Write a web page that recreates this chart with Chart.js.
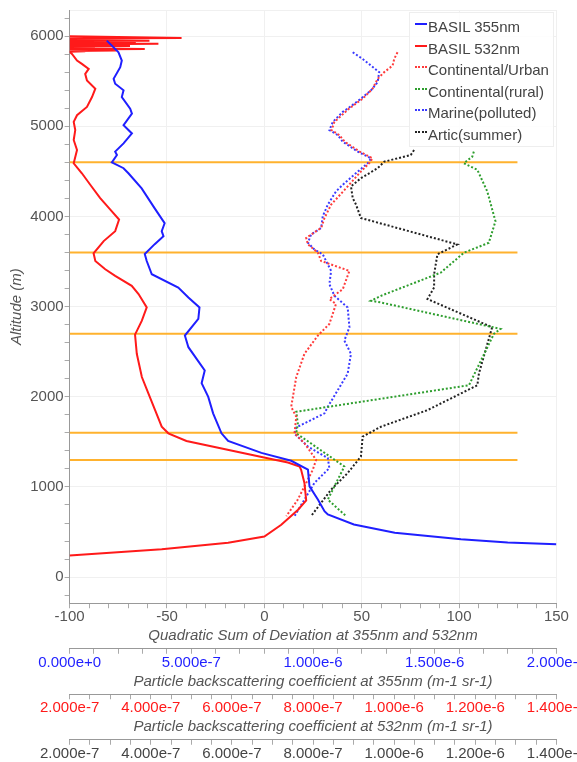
<!DOCTYPE html>
<html>
<head>
<meta charset="utf-8">
<script src="https://cdn.jsdelivr.net/npm/chart.js@4.4.1/dist/chart.umd.min.js"></script>
<style>
    html, body { margin: 0; padding: 0; background: #fff; overflow: hidden; }
    #wrap { position: relative; width: 586px; height: 762px; }
    #legend {
        position: absolute; left: 409px; top: 12px; width: 145px; height: 135px;
        box-sizing: border-box; padding: 3px 0 0 5px;
        background: rgba(255,255,255,0.85); border: 1px solid #eee;
        font: 15px "Liberation Sans", Arial, sans-serif; color: #444;
    }
    #legend .item { display: flex; align-items: center; height: 21.5px; white-space: nowrap; }
    #legend .sw { display: inline-block; width: 12px; height: 0; margin-right: 1px; margin-top: -5px; }
</style>
</head>
<body>
<div id="wrap">
    <canvas id="chart" width="586" height="762"></canvas>
    <div id="legend"></div>
</div>
<script>
// ── Data (value on the deviation axis, altitude in m) ───────────
const basil355 = [
    [-80.9, 5950], [-78.3, 5895], [-74.9, 5821], [-73.2, 5729], [-74, 5656], [-77.4, 5527],
    [-76.6, 5472], [-72.3, 5399], [-73.2, 5325], [-68.9, 5196], [-68, 5141], [-72.3, 5013],
    [-68, 4921], [-72.3, 4810], [-76.6, 4719], [-75.7, 4682], [-78.3, 4600], [-72.3, 4535],
    [-69.8, 4479], [-63, 4311], [-56.3, 4090], [-51.2, 3925], [-52.7, 3837], [-51.8, 3782],
    [-56.3, 3693], [-61.4, 3583], [-60.4, 3506], [-57.8, 3359], [-44.2, 3212], [-39, 3101],
    [-33.3, 2991], [-33.9, 2863], [-40.8, 2679], [-39, 2550], [-30.6, 2293], [-32.2, 2150],
    [-28.8, 1999], [-26.3, 1816], [-22, 1595], [-18.6, 1510], [-1.5, 1378], [13.8, 1290],
    [22.4, 1191], [23.2, 1007], [27.5, 860], [30.9, 731], [32.6, 695], [46, 584],
    [67, 493], [101, 419], [125, 385], [150, 364],
];
const basil532 = [
    [-100, 6000], [-42.5, 5979], [-100, 5975], [-88, 5970], [-100, 5965], [-86, 5960],
    [-100, 5955], [-59, 5950], [-92, 5946], [-100, 5941], [-66, 5936], [-100, 5931],
    [-87, 5927], [-100, 5922], [-54.4, 5915], [-88, 5910], [-100, 5905], [-85, 5900],
    [-100, 5895], [-69, 5890], [-100, 5885], [-90, 5880], [-100, 5875], [-87, 5870],
    [-100, 5865], [-61.4, 5858], [-100, 5853], [-89, 5848], [-100, 5844], [-76, 5840],
    [-100, 5836], [-92, 5832], [-100, 5828], [-98.8, 5803], [-96.2, 5729], [-93.7, 5692],
    [-90.2, 5637], [-92, 5582], [-91.1, 5509], [-86.8, 5417], [-88.5, 5325], [-91.1, 5215],
    [-96.2, 5123], [-97.9, 5049], [-97.1, 4958], [-97.9, 4848], [-96.2, 4737], [-97.9, 4590],
    [-93.7, 4479], [-89.4, 4352], [-84.3, 4204], [-78.3, 4057], [-74.6, 3966], [-76.6, 3837],
    [-82.5, 3727], [-87.7, 3591], [-86.8, 3506], [-81.7, 3414], [-76.6, 3341], [-68.1, 3230],
    [-64.6, 3139], [-60.4, 2991], [-62.9, 2844], [-66.4, 2690], [-65.5, 2477], [-62.9, 2219],
    [-59.5, 2036], [-56.1, 1852], [-52.7, 1668], [-49.3, 1595], [-40, 1510], [5.3, 1301],
    [12.1, 1271], [18.1, 1227], [18.9, 1191], [20.6, 1044], [21.5, 850], [17.2, 745],
    [8.7, 580], [0, 450], [-18.6, 382], [-52.7, 309], [-100, 240],
];
const contUrban = [
    [68.4, 5821], [66.7, 5747], [65.9, 5674], [61.6, 5601], [58.2, 5527], [55.6, 5417],
    [50.5, 5306], [43.5, 5196], [36, 5049], [34.5, 4958], [38.5, 4903], [41.3, 4829],
    [49, 4719], [55.6, 4645], [53.8, 4590], [49.6, 4498], [42, 4314], [34.3, 4131],
    [30.9, 3983], [29.2, 3873], [21.5, 3763], [22.4, 3690], [27.5, 3598], [29.2, 3506],
    [43.7, 3396], [40.3, 3194], [33.4, 3084], [36.8, 3029], [33.4, 2808], [27.5, 2679],
    [20.6, 2477], [16.4, 2219], [13.8, 1889], [16.4, 1778], [15.5, 1595], [20.6, 1485],
    [26.6, 1301], [24.9, 1191], [21.5, 1044], [17.2, 860], [11.3, 676],
];
const contRural = [
    [107.6, 4719], [106.8, 4664], [102.5, 4590], [109.4, 4517], [114.5, 4278], [118.7, 3947],
    [115.3, 3708], [102.5, 3598], [90.6, 3377], [59.9, 3120], [54.8, 3065], [59.9, 3046],
    [121.3, 2753], [117.9, 2698], [105.1, 2128], [16.4, 1834], [17.2, 1700], [16.4, 1595],
    [41.1, 1227], [37.7, 1080], [32.6, 860], [42, 676],
];
const marinePolluted = [
    [45.4, 5821], [50.5, 5747], [54.8, 5674], [59, 5601], [58.2, 5490], [54.8, 5399],
    [49.6, 5306], [42.8, 5196], [40.3, 5160], [35.2, 5049], [33.4, 4958], [37.7, 4903],
    [40.3, 4829], [48, 4719], [54.8, 4645], [53.1, 4590], [48, 4498], [40.3, 4352],
    [36.8, 4278], [32.6, 4131], [30, 4002], [29.2, 3873], [24, 3800], [22.4, 3708],
    [25.7, 3635], [30, 3580], [30.9, 3542], [34.3, 3396], [33.4, 3249], [36, 3120],
    [42.8, 2991], [43.7, 2771], [41.1, 2624], [44.5, 2477], [42.8, 2257], [37.7, 2073],
    [32.6, 1889], [30.9, 1816], [16.4, 1660], [15.5, 1590], [22.4, 1448], [32.6, 1320],
    [33.4, 1209], [25.7, 1044], [20.6, 860], [15.5, 676],
];
const articSummer = [
    [76.9, 4737], [75.2, 4682], [61.6, 4608], [58.2, 4535], [49.6, 4425], [44.5, 4333],
    [45.4, 4204], [47.1, 4131], [49.6, 3983], [99.1, 3690], [88.9, 3580], [87.2, 3359],
    [87.2, 3212], [83.8, 3084], [117, 2771], [110.2, 2257], [109.4, 2128], [83.8, 1852],
    [59.9, 1668], [50.5, 1558], [49.6, 1337], [42.8, 1154], [34.3, 970], [24, 676],
];
const layerAltitudes = [1300, 1600, 2700, 3600, 4600];
const layerLineX = [-100, 130];

// axis ranges: [min, max, labelled step, minor step]
const devTicks = [-100, 150, 50, 10];
const beta355Ticks = [0, 2e-6, 5e-7, 1e-7];
const beta532Ticks = [2e-7, 1.4e-6, 2e-7, 5e-8];
const altTicks = [-290, 6290, 1000, 200];

(function () {
    'use strict';

    const FONT = '"Liberation Sans", Arial, sans-serif';
    const GREY = '#555';
    const toXY = pts => pts.map(([x, y]) => ({ x, y }));
    const isStep = (v, step) => Math.abs(v / step - Math.round(v / step)) < 1e-3;

    // tick values every minor step inside [min, max]
    function tickValues([min, max, , minor]) {
        const out = [];
        for (let k = Math.ceil(min / minor - 1e-9); k * minor <= max * (1 + 1e-9); k++) {
            out.push({ value: k * minor });
        }
        return out;
    }

    // ── Datasets ────────────────────────────────────────────────
    const line = (label, pts, color, dotted) => ({
        label, data: toXY(pts), showLine: true, borderColor: color, backgroundColor: color,
        borderWidth: 2, borderDash: dotted ? [2, 2] : [], dotted,
        pointRadius: 0, pointHoverRadius: 0, tension: 0,
    });
    const datasets = [
        line('BASIL 355nm', basil355, '#1f1fff', false),
        line('BASIL 532nm', basil532, '#ff1a1a', false),
        line('Continental/Urban', contUrban, '#ff3b3b', true),
        line('Continental(rural)', contRural, '#2e9e2e', true),
        line('Marine(polluted)', marinePolluted, '#3a3aff', true),
        line('Artic(summer)', articSummer, '#222222', true),
    ];
    layerAltitudes.forEach(alt => {
        datasets.push({
            label: '', data: layerLineX.map(x => ({ x, y: alt })), showLine: true,
            borderColor: '#ffb22e', borderWidth: 2, pointRadius: 0, order: 1,
        });
    });

    const tickFont = { family: FONT, size: 15, lineHeight: 1.15 };
    const titleFont = { family: FONT, size: 15, style: 'italic', lineHeight: 1.15 };

    // ── Bottom axes helper ──────────────────────────────────────
    function bottomAxis(weight, range, color, title, fmt, onArea) {
        return {
            type: 'linear', axis: 'x', position: 'bottom', weight, min: range[0], max: range[1],
            afterBuildTicks: scale => { scale.ticks = tickValues(range); },
            ticks: {
                autoSkip: false, maxRotation: 0, minRotation: 0, padding: 0, color, font: tickFont,
                callback: v => isStep(v, range[2]) ? fmt(v) : '',
            },
            grid: {
                drawOnChartArea: onArea, tickLength: 5, tickColor: '#aaa',
                color: c => c.tick && isStep(c.tick.value, range[2]) ? '#f0f0f0' : 'rgba(0,0,0,0)',
            },
            border: { color: '#999' },
            title: {
                display: !!title, text: title, color: GREY, padding: { top: 2, bottom: 4 }, font: titleFont,
            },
        };
    }
    const expFmt = v => v.toExponential(3);

    const chart = new Chart(document.getElementById('chart'), {
        type: 'scatter',
        data: { datasets },
        options: {
            responsive: false,
            animation: false,
            devicePixelRatio: 1,
            layout: { padding: { left: 4, top: 8, right: 0, bottom: 0 } },
            plugins: { legend: { display: false }, tooltip: { enabled: false } },
            scales: {
                x: bottomAxis(0, devTicks, GREY, 'Quadratic Sum of Deviation at 355nm and 532nm',
                    v => String(Math.round(v)), true),
                x2: bottomAxis(1, beta355Ticks, '#1f1fff',
                    'Particle backscattering coefficient at 355nm (m-1 sr-1)', expFmt, false),
                x3: bottomAxis(2, beta532Ticks, '#ff1a1a',
                    'Particle backscattering coefficient at 532nm (m-1 sr-1)', expFmt, false),
                x4: bottomAxis(3, beta532Ticks, '#444', '', expFmt, false),
                y: {
                    type: 'linear', min: altTicks[0], max: altTicks[1],
                    afterBuildTicks: scale => {
                        scale.ticks = tickValues(altTicks).concat([{ value: altTicks[1] }]);
                    },
                    ticks: {
                        autoSkip: false, padding: 1, color: GREY, font: { family: FONT, size: 15 },
                        callback: v => isStep(v, altTicks[2]) ? String(Math.round(v)) : '',
                    },
                    grid: {
                        color: c => c.tick && (isStep(c.tick.value, altTicks[2]) || c.tick.value === altTicks[1])
                            ? '#f0f0f0' : 'rgba(0,0,0,0)',
                        tickColor: c => c.tick && c.tick.value === altTicks[1] ? 'rgba(0,0,0,0)' : '#aaa',
                        tickLength: 5,
                    },
                    border: { color: '#999' },
                    title: { display: true, text: 'Altitude (m)', color: GREY, font: titleFont },
                },
            },
        },
    });

    // ── Legend (HTML, inside plot) ──────────────────────────────
    const host = document.getElementById('legend');
    host.innerHTML = chart.data.datasets.filter(ds => ds.label).map(ds => {
        const style = ds.dotted ? 'dotted' : 'solid';
        return `<div class="item"><span class="sw" style="border-top:2px ${style} ${ds.borderColor};"></span>`
            + `<span>${ds.label}</span></div>`;
    }).join('');
})();
</script>
</body>
</html>
